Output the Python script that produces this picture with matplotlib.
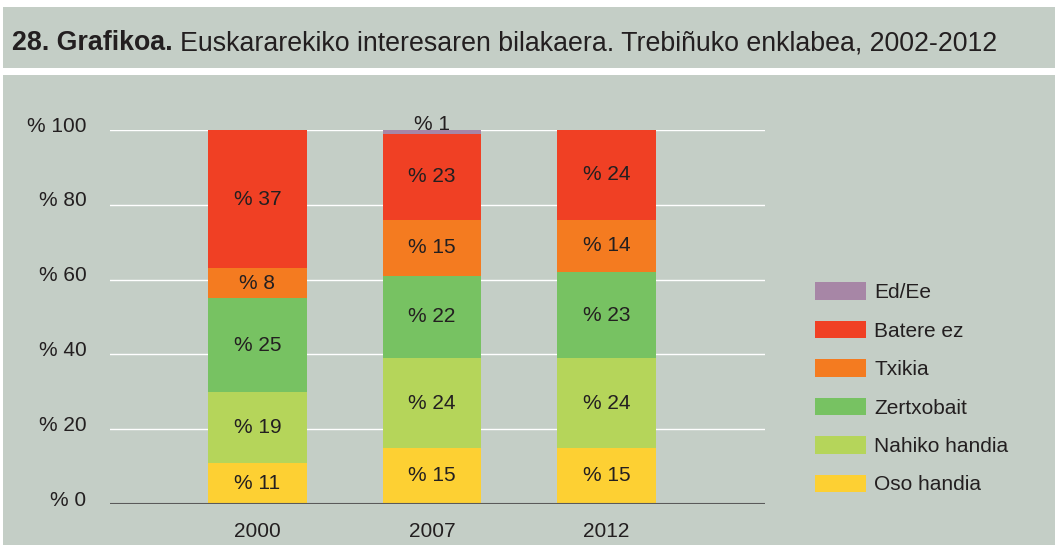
import matplotlib
matplotlib.use("Agg")
import matplotlib.pyplot as plt
from matplotlib.patches import Rectangle, Patch
from matplotlib.transforms import ScaledTranslation

plt.rcParams['font.family'] = ['Liberation Sans', 'DejaVu Sans']

years = ["2000", "2007", "2012"]
series = ["Oso handia", "Nahiko handia", "Zertxobait", "Txikia", "Batere ez", "Ed/Ee"]
oso_handia = [11, 15, 15]
nahiko_handia = [19, 24, 24]
zertxobait = [25, 22, 23]
txikia = [8, 15, 14]
batere_ez = [37, 23, 24]
ed_ee = [0, 1, 0]
values = [oso_handia, nahiko_handia, zertxobait, txikia, batere_ez, ed_ee]
colors = ["#fdd033", "#b5d55a", "#77c262", "#f47b20", "#f04024", "#a786a6"]
yticks = [0, 20, 40, 60, 80, 100]

W, H = 1055, 545
FS = 15
TXT = "#231f20"
fig = plt.figure(figsize=(W / 100, H / 100), dpi=100)
fig.patch.set_facecolor("white")
bg = "#c4cec6"
fig.patches.append(Rectangle((3 / W, 1 - 68 / H), 1 - 3 / W, 61 / H, transform=fig.transFigure,
                             facecolor=bg, edgecolor="none", zorder=-10))
fig.patches.append(Rectangle((3 / W, 0), 1 - 3 / W, 1 - 75 / H, transform=fig.transFigure,
                             facecolor=bg, edgecolor="none", zorder=-10))
t1 = fig.text(12 / W, 1 - 43 / H, "28. Grafikoa.", fontsize=19.3, fontweight="bold", color=TXT,
              va="center", ha="left")
fig.canvas.draw()
ext = t1.get_window_extent(renderer=fig.canvas.get_renderer())
fig.text((ext.x1 + 7) / W, 1 - 43 / H,
         "Euskararekiko interesaren bilakaera. Trebiñuko enklabea, 2002-2012",
         fontsize=19.3, color=TXT, va="center", ha="left")

ax = fig.add_axes([110 / W, 1 - 504 / H, 655 / W, 374 / H])
ax.set_facecolor("none")
x = list(range(len(years)))
ax.set_xlim(-0.845, 2.908)
ax.set_ylim(0, 100)
for y in yticks[1:]:
    ax.axhline(y, color="white", lw=1, zorder=1)

bottoms = [0, 0, 0]
for name, vals, col in zip(series, values, colors):
    ax.bar(x, vals, width=0.567, bottom=bottoms, color=col, zorder=2)
    for i, v in enumerate(vals):
        if v <= 0:
            continue
        if v < 3:
            ax.text(x[i], bottoms[i] + v - 1.0, f"% {v}", ha="center", va="bottom",
                    fontsize=FS, color=TXT, zorder=3)
        else:
            ax.text(x[i], bottoms[i] + v / 2, f"% {v}", ha="center", va="center",
                    fontsize=FS, color=TXT, zorder=3)
    bottoms = [b + v for b, v in zip(bottoms, vals)]

ax.axhline(0, color="#5a5a5a", lw=1.5, zorder=4)
for s in ax.spines.values():
    s.set_visible(False)
ax.set_yticks(yticks)
ax.set_yticklabels([f"% {t}" for t in yticks], fontsize=FS, color=TXT)
ax.set_xticks(x)
ax.set_xticklabels(years, fontsize=FS, color=TXT)
ax.tick_params(length=0)
ax.tick_params(axis="y", pad=17)
ax.tick_params(axis="x", pad=13)
for lab in ax.get_yticklabels():
    lab.set_transform(lab.get_transform() + ScaledTranslation(0, 6 / 100, fig.dpi_scale_trans))

handles = [Patch(facecolor=c, edgecolor="none", label=n) for n, c in zip(series, colors)][::-1]
leg = fig.legend(handles=handles, loc="upper left", bbox_to_anchor=(806.7 / W, 1 - 274 / H),
                 borderaxespad=0, frameon=False, fontsize=FS, handlelength=2.45,
                 handleheight=0.91, labelspacing=0.89, handletextpad=0.4)
for t in leg.get_texts():
    t.set_color(TXT)

fig.savefig("out.png", dpi=100, facecolor=fig.get_facecolor())
